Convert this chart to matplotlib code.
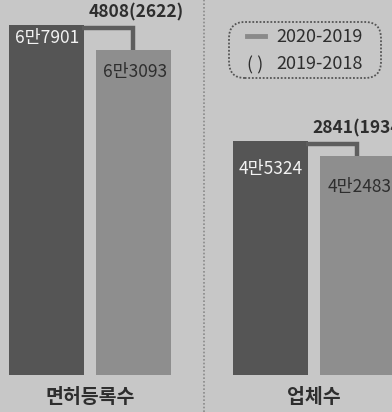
import matplotlib.pyplot as plt
from matplotlib.patches import FancyBboxPatch

plt.rcParams['font.family'] = ['Noto Sans CJK KR', 'DejaVu Sans']

# data
categories = ['면허등록수', '업체수']
v2020 = [67901, 45324]
v2019 = [63093, 42483]
labels2020 = ['6만7901', '4만5324']
labels2019 = ['6만3093', '4만2483']
diffs = ['4808(2622)', '2841(1934)']
legend_rows = ['2020-2019', '2019-2018']

bg = '#c7c7c7'
dark = '#555555'
light = '#8e8e8e'
txt = '#2e2e2e'

fig = plt.figure(figsize=(3.92, 4.12), dpi=100)
fig.patch.set_facecolor(bg)
ax = fig.add_axes([0, 31 / 412, 1, 381 / 412])
ax.set_facecolor(bg)
ax.set_xlim(-0.402, 1.348)
ax.set_ylim(-1170, 72750)
ax.axis('off')

w = 0.335
off = 0.193
xs = list(range(len(categories)))
ax.bar([x - off for x in xs], v2020, width=w, color=dark, zorder=2)
ax.bar([x + off for x in xs], v2019, width=w, color=light, zorder=2)

# labels inside bars (pixel offsets from bar top)
dy_dark = [-13, -28]
dy_light = [-22, -31]
for i, x in enumerate(xs):
    ax.annotate(labels2020[i], (x - off, v2020[i]), xytext=(0, dy_dark[i] * 0.72),
                textcoords='offset points', ha='center', va='center',
                color='#f2f2f2', fontsize=12.5, fontweight='medium', zorder=4)
    ax.annotate(labels2019[i], (x + off, v2019[i]), xytext=(1.5, dy_light[i] * 0.72),
                textcoords='offset points', ha='center', va='center',
                color=txt, fontsize=12.5, fontweight='medium', zorder=4)
    # connector bracket
    xl = x - off + w / 2
    xr = x + off
    ytop = v2020[i] - 600
    ax.plot([xl - 0.01, xr, xr], [ytop, ytop, v2019[i]], color='#5e5e5e',
            lw=3.2, solid_joinstyle='miter', solid_capstyle='butt', zorder=3)
    ax.annotate(diffs[i], (xr, ytop), xytext=(2, 5), textcoords='offset points',
                ha='center', va='bottom', color=txt, fontsize=12.5,
                fontweight='bold', zorder=4, annotation_clip=False)
    ax.text(x, -0.042, categories[i], transform=ax.get_xaxis_transform(),
            ha='center', va='center', fontsize=14, fontweight='bold', color=txt,
            clip_on=False)

# dotted divider
fig.add_artist(plt.Line2D([204 / 392, 204 / 392], [0, 1], color='#8a8a8a',
                          lw=1.2, ls=(0, (1, 1.2))))

# legend box
box = FancyBboxPatch((229 / 392, 1 - 78 / 412), 152 / 392, 56 / 412,
                     boxstyle='round,pad=0,rounding_size=0.04',
                     transform=fig.transFigure, facecolor='none',
                     edgecolor='#555555', lw=1.3, ls=(0, (1, 1)))
fig.add_artist(box)
fig.add_artist(plt.Line2D([247 / 392, 265 / 392], [1 - 36 / 412, 1 - 36 / 412],
                          color='#8a8a8a', lw=3.5))
fig.text(255 / 392, 1 - 65 / 412, '( )', ha='center', va='center',
         fontsize=13, fontweight='medium', color=txt)
fig.text(276 / 392, 1 - 37 / 412, legend_rows[0], ha='left', va='center',
         fontsize=13, fontweight='medium', color=txt)
fig.text(276 / 392, 1 - 64 / 412, legend_rows[1], ha='left', va='center',
         fontsize=13, fontweight='medium', color=txt)

fig.savefig('out.png', dpi=100, facecolor=bg)
